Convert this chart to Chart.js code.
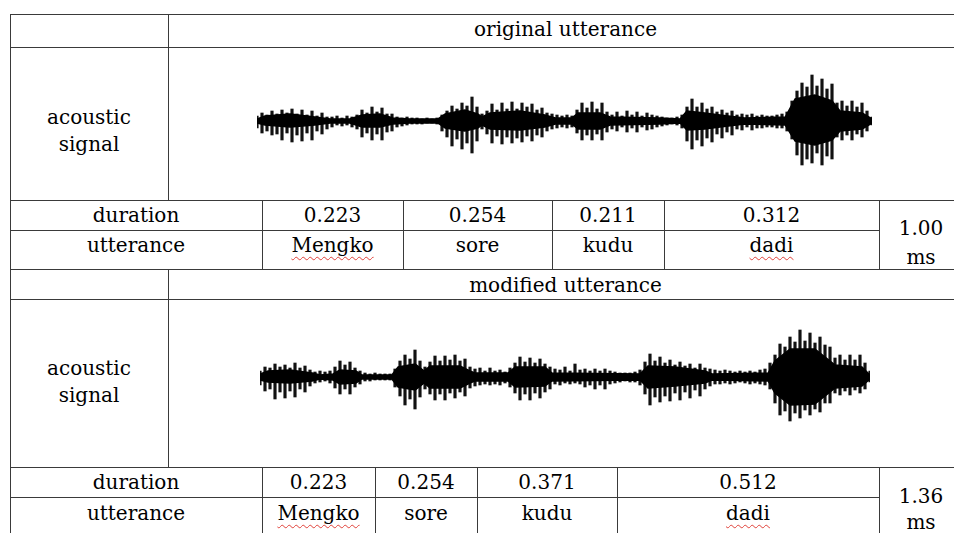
<!DOCTYPE html>
<html>
<head>
<meta charset="utf-8">
<script src="https://cdn.jsdelivr.net/npm/chart.js@4/dist/chart.umd.min.js"></script>
<style>
  html, body { margin: 0; padding: 0; background: #fff; }
  #page { position: relative; width: 954px; height: 533px; overflow: hidden; }
  .h { position: absolute; height: 1px; background: #3a3a3a; }
  .v { position: absolute; width: 1px; background: #3a3a3a; }
  .txt {
    position: absolute; transform: translate(-50%, -50%);
    font: 20px "DejaVu Serif", serif; line-height: 20px; color: #000; white-space: nowrap;
  }
  .spell { text-decoration: underline wavy #e0413a; text-decoration-thickness: 1px; text-underline-offset: 4px; }
  .wave { position: absolute; height: 120px; }
</style>
</head>
<body>
<div id="page">
  <div class="wave" style="left:257px; top:61px; width:615px;"><canvas id="waveOrig"></canvas></div>
  <div class="wave" style="left:260px; top:317px; width:610px;"><canvas id="waveMod"></canvas></div>
</div>
<script>
// words and durations (s)
const words = ['Mengko', 'sore', 'kudu', 'dadi'];
const origDur = [0.223, 0.254, 0.211, 0.312];
const modDur = [0.223, 0.254, 0.371, 0.512];
const totals = [1.00, 1.36];
const misspelled = ['Mengko', 'dadi'];

// original utterance: spike peaks above / below the zero line
const origTop = [5,8,6,10,7,11,8,12,7,11,6,10,5,8,4,4,5,3,5,4,
  6,11,8,14,9,13,7,7,4,3,4,3,3,2,3,2,3,6,10,15,
  12,18,15,24,14,7,10,17,11,18,12,19,12,18,14,17,11,13,8,7,
  6,5,6,5,11,18,13,19,12,18,9,6,9,5,10,6,9,5,8,6,
  5,4,3,3,4,6,14,22,14,18,12,14,9,11,8,10,6,7,6,7,
  5,6,5,5,6,7,9,20,30,38,34,46,35,42,32,37,18,20,15,20,
  14,18,10,4];
const origBottom = [7,12,10,14,13,19,12,21,14,20,12,19,10,13,8,6,4,5,4,6,
  8,16,12,19,13,19,11,10,6,5,4,3,3,3,2,2,3,10,16,25,
  18,28,22,32,20,8,13,22,15,23,16,22,17,21,15,20,14,16,10,8,
  7,6,7,6,12,19,14,19,13,19,11,8,10,6,11,7,11,6,9,8,
  6,5,4,3,4,7,20,28,19,25,17,21,13,17,11,14,8,9,6,9,
  7,7,6,6,7,7,10,18,34,44,38,42,32,44,35,38,16,19,14,19,
  13,16,10,4];
// original utterance: dense core of the signal
const origCoreT = [0.000,0.013,0.054,0.094,0.119,0.151,0.171,0.200,0.221,0.249,0.294,0.306,
  0.338,0.359,0.366,0.379,0.428,0.468,0.485,0.512,0.522,0.558,0.574,0.655,0.688,0.699,
  0.728,0.753,0.793,0.859,0.875,0.907,0.935,0.948,0.984,1.000];
const origCoreUp = [2,5,7,4,2,2,6,7,3,2,2,7,11,7,4,8,10,6,3,3,8,8,4,3,2,10,8,6,3,4,22,26,20,10,8,2];
const origCoreDown = [2,4,6,4,2,2,6,6,3,2,2,7,10,7,4,8,9,6,3,3,8,8,4,3,2,9,8,6,3,4,20,24,19,10,8,2];

// modified utterance
const modTop = [6,10,9,13,10,12,9,14,9,11,7,5,6,5,6,10,16,12,15,9,
  6,4,3,4,3,3,3,8,16,22,18,27,16,10,15,21,16,21,17,22,
  16,18,10,8,9,6,9,6,7,5,9,14,20,15,19,14,18,13,10,8,
  7,10,6,13,7,8,6,8,6,8,6,5,4,4,4,5,7,15,23,16,
  20,14,17,12,15,11,13,9,13,9,8,7,6,7,6,5,6,5,6,5,
  7,8,14,22,33,30,40,35,47,36,44,34,40,32,30,19,22,17,22,17,
  22,14,6];
const modBottom = [8,14,12,22,15,21,14,20,12,15,9,6,5,4,6,11,17,12,17,10,
  7,4,4,3,3,3,3,10,19,28,22,32,20,12,17,23,17,23,16,21,
  15,19,11,9,8,7,8,7,8,6,10,16,23,17,23,16,21,15,12,7,
  8,6,7,6,7,10,8,12,8,12,7,6,5,4,5,5,8,17,28,20,
  25,19,24,16,23,15,21,13,19,12,9,7,7,6,7,6,5,6,7,6,
  7,8,12,26,38,34,44,36,41,33,38,32,35,26,26,16,18,14,18,13,
  16,12,5];
const modCoreT = [0.000,0.018,0.067,0.116,0.134,0.163,0.178,0.214,0.227,0.294,0.308,0.346,
  0.366,0.379,0.446,0.468,0.479,0.553,0.569,0.635,0.651,0.847,0.865,0.925,0.992,1.008,
  1.133,1.148,1.182,1.237,1.271,1.282,1.342,1.360];
const modCoreUp = [3,6,7,4,2,3,7,6,2,2,10,13,6,11,11,6,4,4,10,10,4,3,11,10,6,3,4,16,28,28,16,12,10,2];
const modCoreDown = [3,5,6,4,2,3,7,6,2,2,10,13,6,11,11,6,4,4,10,9,4,3,11,9,6,3,4,16,28,27,15,11,9,2];

// table layout
const sections = [
  { title: 'original utterance', dur: origDur, total: totals[0],
    top: 14, head: 47, sig: 200, mid: 230, bot: 269, cols: [262, 403, 552, 664, 879],
    yTitle: 29, yAc: 116.5, ySig: 144, yDur: 215, yUtt: 245, yTot: 228, yMs: 256.5 },
  { title: 'modified utterance', dur: modDur, total: totals[1],
    top: 269, head: 299, sig: 467, mid: 497, bot: 545, cols: [262, 375, 477, 617, 879],
    yTitle: 285, yAc: 368, ySig: 395, yDur: 482, yUtt: 513, yTot: 495.5, yMs: 521.5 }
];
const left = 10, stub = 168, right = 963;

const page = document.getElementById('page');
function hline(x1, x2, y) {
  const d = document.createElement('div');
  d.className = 'h';
  d.style.left = x1 + 'px'; d.style.width = (x2 - x1 + 1) + 'px'; d.style.top = y + 'px';
  page.appendChild(d);
}
function vline(x, y1, y2) {
  const d = document.createElement('div');
  d.className = 'v';
  d.style.left = x + 'px'; d.style.top = y1 + 'px'; d.style.height = (y2 - y1 + 1) + 'px';
  page.appendChild(d);
}
function label(text, cx, cy, spell) {
  const d = document.createElement('div');
  d.className = 'txt';
  d.style.left = cx + 'px'; d.style.top = cy + 'px';
  if (spell) {
    const s = document.createElement('span');
    s.className = 'spell';
    s.textContent = text;
    d.appendChild(s);
  } else {
    d.textContent = text;
  }
  page.appendChild(d);
}

sections.forEach(s => {
  hline(left, right, s.top);
  hline(left, right, s.head);
  hline(left, right, s.sig);
  hline(left, s.cols[4], s.mid);
  hline(left, right, s.bot);
  vline(left, s.top, s.bot);
  vline(stub, s.top, s.sig);
  vline(right, s.top, s.bot);
  s.cols.forEach(x => vline(x, s.sig, s.bot));

  label(s.title, (stub + right) / 2, s.yTitle);
  label('acoustic', (left + stub) / 2, s.yAc);
  label('signal', (left + stub) / 2, s.ySig);
  label('duration', (left + s.cols[0]) / 2, s.yDur);
  label('utterance', (left + s.cols[0]) / 2, s.yUtt);
  words.forEach((w, i) => {
    const cx = (s.cols[i] + s.cols[i + 1]) / 2;
    label(s.dur[i].toFixed(3), cx, s.yDur);
    label(w, cx, s.yUtt, misspelled.includes(w));
  });
  label(s.total.toFixed(2), (s.cols[4] + right) / 2, s.yTot);
  label('ms', (s.cols[4] + right) / 2, s.yMs);
});

// waveforms
function drawWave(id, dur, top, bottom, coreT, coreUp, coreDown) {
  const n = top.length;
  const spikes = top.map((v, i) => ({ x: i * dur / (n - 1), y: [-bottom[i], v] }));
  const coreHi = coreT.map((t, i) => ({ x: t, y: coreUp[i] }));
  const coreLo = coreT.map((t, i) => ({ x: t, y: -coreDown[i] }));
  new Chart(document.getElementById(id), {
    type: 'bar',
    data: {
      datasets: [
        { type: 'line', data: coreHi, borderColor: '#000', backgroundColor: '#000',
          borderWidth: 1.5, pointRadius: 0, fill: '+1', tension: 0 },
        { type: 'line', data: coreLo, borderColor: '#000', borderWidth: 1.5,
          pointRadius: 0, fill: false, tension: 0 },
        { type: 'bar', data: spikes, backgroundColor: '#111', borderWidth: 0, barThickness: 2.5 }
      ]
    },
    options: {
      animation: false,
      responsive: true,
      maintainAspectRatio: false,
      events: [],
      layout: { padding: 0 },
      plugins: { legend: { display: false }, tooltip: { enabled: false } },
      scales: {
        x: { type: 'linear', min: 0, max: dur, display: false, offset: false },
        y: { min: -60, max: 60, display: false }
      }
    }
  });
}

drawWave('waveOrig', totals[0], origTop, origBottom, origCoreT, origCoreUp, origCoreDown);
drawWave('waveMod', totals[1], modTop, modBottom, modCoreT, modCoreUp, modCoreDown);
</script>
</body>
</html>
